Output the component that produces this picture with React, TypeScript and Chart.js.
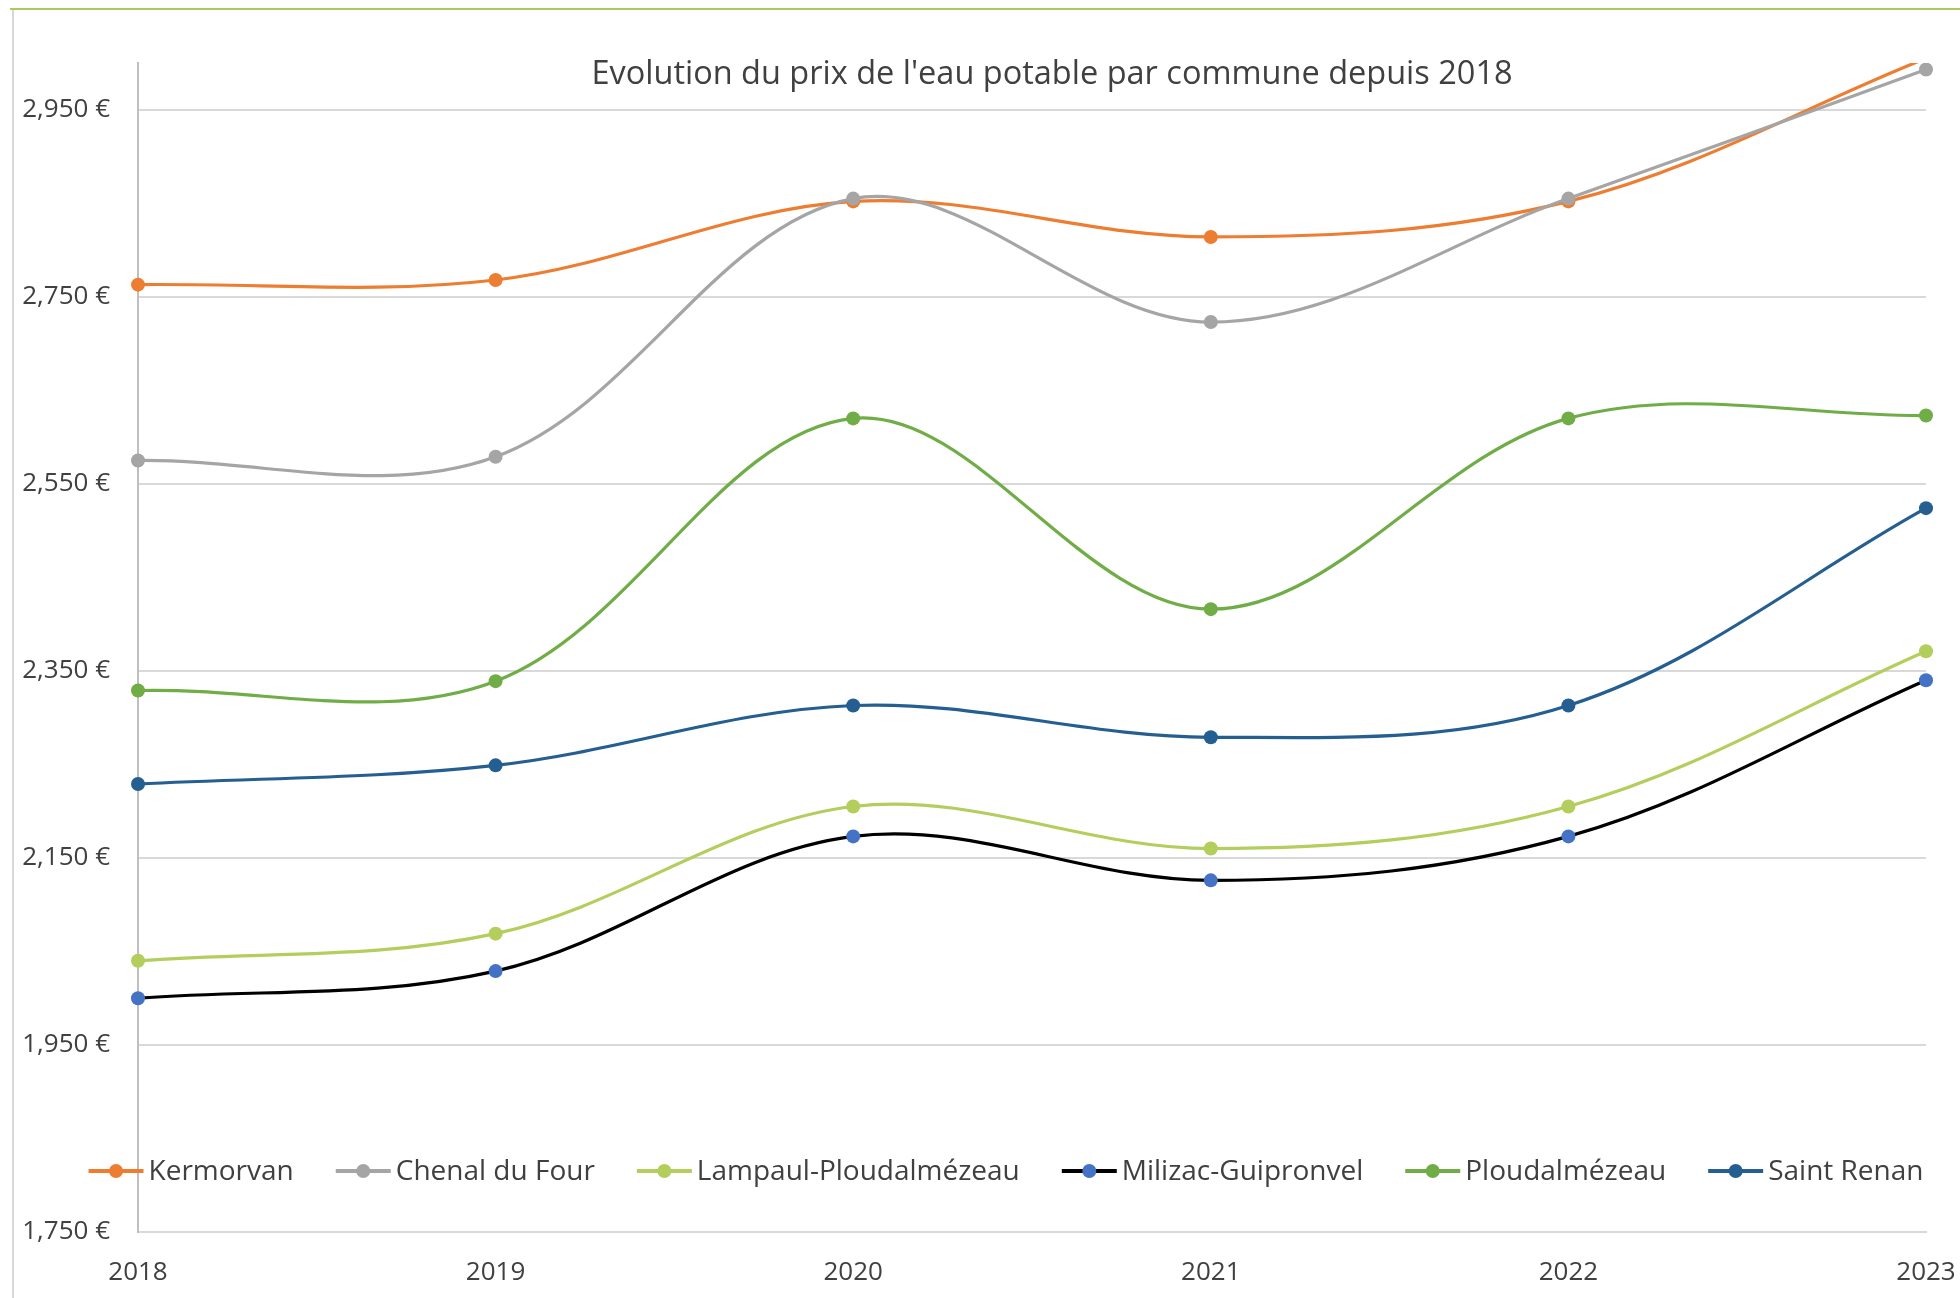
import React, { useEffect, useRef } from "react";
import { Chart, registerables } from "chart.js";

Chart.register(...registerables);

const years = ["2018", "2019", "2020", "2021", "2022", "2023"];
const seriesNames = [
  "Kermorvan",
  "Chenal du Four",
  "Lampaul-Ploudalmézeau",
  "Milizac-Guipronvel",
  "Ploudalmézeau",
  "Saint Renan",
];
const kermorvan = [2.763, 2.768, 2.852, 2.814, 2.852, 3.005];
const chenalDuFour = [2.575, 2.579, 2.855, 2.723, 2.855, 2.993];
const lampaulPloudalmezeau = [2.04, 2.069, 2.205, 2.16, 2.205, 2.371];
const milizacGuipronvel = [2.0, 2.029, 2.173, 2.126, 2.173, 2.34];
const ploudalmezeau = [2.329, 2.339, 2.62, 2.416, 2.62, 2.623];
const saintRenan = [2.229, 2.249, 2.313, 2.279, 2.313, 2.524];
const yTickValues = [1.75, 1.95, 2.15, 2.35, 2.55, 2.75, 2.95];
const yMin = 1.75;
const yMax = 3.0;
const titleText = "Evolution du prix de l'eau potable par commune depuis 2018";

const lineColors = ["#ED7D31", "#A5A5A5", "#B3CE5C", "#000000", "#70AD47", "#255E91"];
const markerColors = ["#ED7D31", "#A5A5A5", "#B3CE5C", "#4472C4", "#70AD47", "#255E91"];

const FONT = "'Open Sans', 'DejaVu Sans', sans-serif";
const TEXT_COLOR = "#404040";

const decorPlugin = {
  id: "decor",
  beforeDraw(chart: any) {
    const ctx = chart.ctx;
    ctx.save();
    ctx.fillStyle = "#ffffff";
    ctx.fillRect(0, 0, chart.width, chart.height);
    ctx.strokeStyle = "#A9CB5E";
    ctx.lineWidth = 2;
    ctx.beginPath();
    ctx.moveTo(10, 9);
    ctx.lineTo(chart.width, 9);
    ctx.stroke();
    ctx.strokeStyle = "#D9D9D9";
    ctx.lineWidth = 2;
    ctx.beginPath();
    ctx.moveTo(13, 10);
    ctx.lineTo(13, chart.height);
    ctx.stroke();
    ctx.restore();
  },
  afterDraw(chart: any) {
    const ctx = chart.ctx;
    ctx.save();
    ctx.fillStyle = TEXT_COLOR;
    ctx.font = `32.5px ${FONT}`;
    ctx.textAlign = "center";
    ctx.textBaseline = "middle";
    ctx.fillText(titleText, 1052, 75);

    ctx.font = `28px ${FONT}`;
    const lineLen = 55;
    const textGap = 5;
    const itemGap = 42;
    const items = chart.data.datasets.map((ds: any) => ({
      label: ds.label,
      line: ds.borderColor,
      marker: ds.pointBackgroundColor,
      w: lineLen + textGap + ctx.measureText(ds.label).width,
    }));
    const total = items.reduce((s: number, it: any) => s + it.w, 0) + itemGap * (items.length - 1);
    let x = 1006 - total / 2;
    const y = 1171;
    ctx.textAlign = "left";
    ctx.textBaseline = "middle";
    for (const it of items) {
      ctx.strokeStyle = it.line;
      ctx.lineWidth = 4;
      ctx.beginPath();
      ctx.moveTo(x, y);
      ctx.lineTo(x + lineLen, y);
      ctx.stroke();
      ctx.fillStyle = it.marker;
      ctx.beginPath();
      ctx.arc(x + lineLen / 2, y, 7, 0, Math.PI * 2);
      ctx.fill();
      ctx.fillStyle = TEXT_COLOR;
      ctx.fillText(it.label, x + lineLen + textGap, y + 1);
      x += it.w + itemGap;
    }
    ctx.restore();
  },
};

export default function App() {
  const canvasRef = useRef<HTMLCanvasElement | null>(null);

  useEffect(() => {
    const canvas = canvasRef.current;
    if (!canvas) return;
    const allSeries = [
      kermorvan,
      chenalDuFour,
      lampaulPloudalmezeau,
      milizacGuipronvel,
      ploudalmezeau,
      saintRenan,
    ];
    const datasets = allSeries.map((data, i) => ({
      label: seriesNames[i],
      data,
      borderColor: lineColors[i],
      backgroundColor: markerColors[i],
      pointBackgroundColor: markerColors[i],
      pointBorderColor: markerColors[i],
      pointRadius: (c: any) => (c.raw > yMax ? 0 : 7),
      pointBorderWidth: 0,
      borderWidth: 3.2,
      tension: 0.35,
      fill: false,
      order: allSeries.length - i,
      clip: { left: 12, right: 12, top: 0, bottom: 12 },
    }));

    const chart = new Chart(canvas, {
      type: "line",
      data: { labels: years, datasets },
      options: {
        responsive: false,
        devicePixelRatio: 1,
        animation: false,
        layout: { padding: { top: 63, right: 34, bottom: 0, left: 0 } },
        plugins: {
          legend: { display: false },
          title: { display: false },
          tooltip: { enabled: false },
        },
        elements: { line: { capBezierPoints: false } },
        scales: {
          x: {
            type: "category",
            offset: false,
            grid: { display: false, drawTicks: false },
            border: { display: true, color: "#D9D9D9", width: 2 },
            ticks: {
              color: TEXT_COLOR,
              font: { family: FONT, size: 26 },
              padding: 25,
              maxRotation: 0,
              autoSkip: false,
            },
            afterFit: (scale: any) => {
              scale.height = 66;
              scale.paddingLeft = 0;
              scale.paddingRight = 0;
            },
          },
          y: {
            min: yMin,
            max: yMax,
            grid: { color: "#D9D9D9", lineWidth: 2, drawTicks: false },
            border: { display: true, color: "#BFBFBF", width: 2 },
            ticks: {
              color: TEXT_COLOR,
              font: { family: FONT, size: 26 },
              padding: 28,
              callback: (v: any) => Number(v).toFixed(3).replace(".", ",") + " €",
            },
            afterBuildTicks: (scale: any) => {
              scale.ticks = yTickValues.map((v) => ({ value: v }));
            },
            afterFit: (scale: any) => {
              scale.width = 138;
              scale.paddingTop = 0;
              scale.paddingBottom = 0;
            },
          },
        },
      },
      plugins: [decorPlugin],
    });
    return () => chart.destroy();
  }, []);

  return (
    <div style={{ position: "fixed", left: 0, top: 0, width: 1960, height: 1298, background: "#fff" }}>
      <canvas ref={canvasRef} width={1960} height={1298} style={{ display: "block" }} />
    </div>
  );
}
